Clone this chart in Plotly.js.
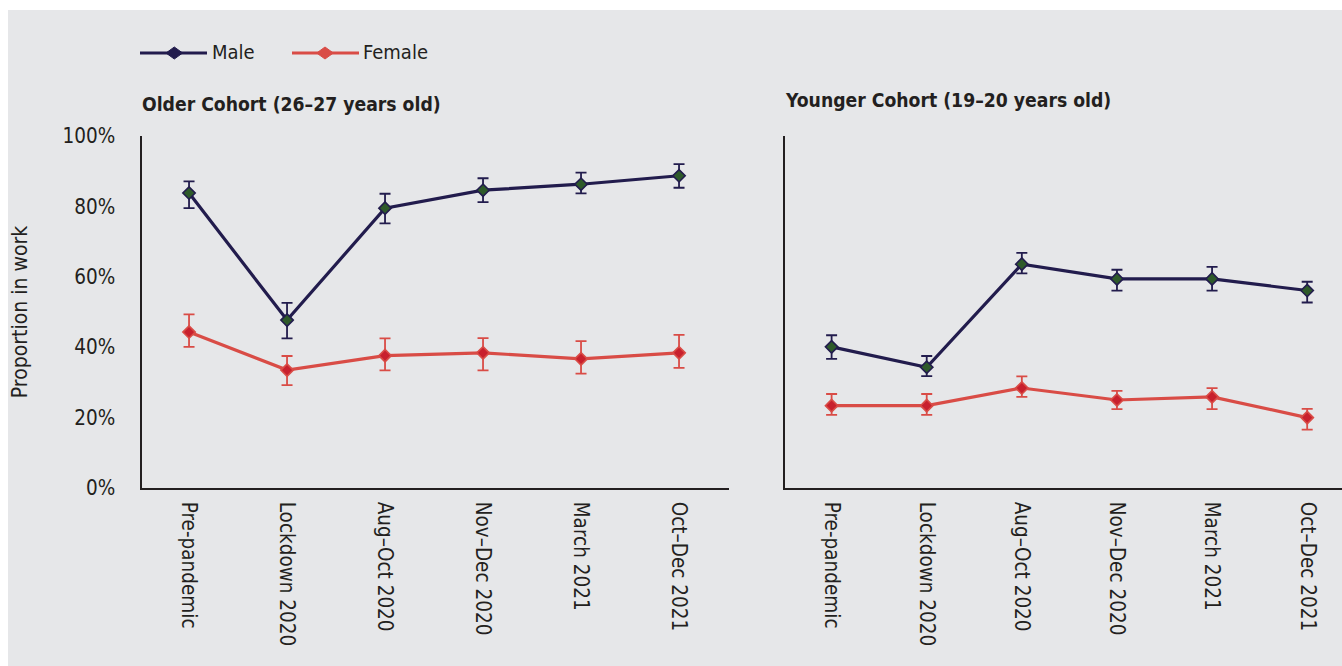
<!DOCTYPE html>
<html>
<head>
<meta charset="utf-8">
<script src="https://cdn.plot.ly/plotly-3.0.1.min.js"></script>
<style>
html,body{margin:0;padding:0;background:#ffffff;}
#chart{position:absolute;left:8px;top:10px;width:1334px;height:656px;}
</style>
</head>
<body>
<div id="chart"></div>
<script>
// ---- data ----
var categories = ["Pre-pandemic", "Lockdown 2020", "Aug\u2013Oct 2020", "Nov\u2013Dec 2020", "March 2021", "Oct\u2013Dec 2021"];
var yTickVals = [0, 20, 40, 60, 80, 100];
var yTickText = ["0%", "20%", "40%", "60%", "80%", "100%"];

var olderMale = [83.8, 47.7, 79.5, 84.6, 86.3, 88.7];
var olderMalePlus = [3.3, 4.9, 4.1, 3.4, 3.3, 3.3];
var olderMaleMinus = [4.3, 5.2, 4.3, 3.4, 2.6, 3.4];

var olderFemale = [44.3, 33.5, 37.6, 38.4, 36.7, 38.4];
var olderFemalePlus = [5.0, 4.0, 4.9, 4.2, 5.0, 5.1];
var olderFemaleMinus = [4.2, 4.3, 4.2, 5.0, 4.2, 4.3];

var youngerMale = [40.1, 34.3, 63.6, 59.4, 59.4, 56.1];
var youngerMalePlus = [3.3, 3.2, 3.2, 2.6, 3.4, 2.5];
var youngerMaleMinus = [3.4, 2.5, 2.6, 3.3, 3.3, 3.4];

var youngerFemale = [23.4, 23.4, 28.4, 25.0, 25.9, 20.0];
var youngerFemalePlus = [3.3, 3.3, 3.3, 2.6, 2.5, 2.5];
var youngerFemaleMinus = [2.6, 2.6, 2.5, 2.6, 3.5, 3.4];

// ---- styles ----
var FONT = "DejaVu Sans Condensed, Liberation Sans Narrow, Liberation Sans, Arial, sans-serif";
var TXT = "#231f20";
var BG = "#e6e7e9";
var NAVY = "#221c4d";
var GREEN = "#2e5a2a";
var RED = "#d94c46";
var REDFILL = "#c8202d";

function series(x, y, plus, minus, xa, ya, lineColor, fill, border) {
  return {
    type: "scatter", mode: "lines+markers", x: x, y: y, xaxis: xa, yaxis: ya,
    showlegend: false, hoverinfo: "skip",
    line: {color: lineColor, width: 3.2},
    marker: {symbol: "diamond", size: 9.5, color: fill, line: {color: border, width: 1.6}},
    error_y: {type: "data", symmetric: false, array: plus, arrayminus: minus,
              color: lineColor, thickness: 1.8, width: 5.5}
  };
}

var traces = [
  series(categories, olderFemale, olderFemalePlus, olderFemaleMinus, "x", "y", RED, REDFILL, RED),
  series(categories, olderMale, olderMalePlus, olderMaleMinus, "x", "y", NAVY, GREEN, NAVY),
  series(categories, youngerFemale, youngerFemalePlus, youngerFemaleMinus, "x2", "y2", RED, REDFILL, RED),
  series(categories, youngerMale, youngerMalePlus, youngerMaleMinus, "x2", "y2", NAVY, GREEN, NAVY)
];

var xBase = {
  type: "category", showgrid: false, zeroline: false, showline: true,
  linecolor: TXT, linewidth: 1.6, ticks: "", tickangle: 90,
  tickfont: {family: FONT, size: 20.5, color: TXT}, ticklabelstandoff: 8, fixedrange: true
};
var yBase = {
  range: [0, 100], showgrid: false, zeroline: false, showline: true,
  linecolor: TXT, linewidth: 1.6, ticks: "", tickvals: yTickVals, ticktext: yTickText,
  tickfont: {family: FONT, size: 20.5, color: TXT}, fixedrange: true
};

// pixel helpers (plot area: x 142..1342, y 136..488 in page px)
function px(p) { return (p - 142) / 1200; }
function py(p) { return (488 - p) / 352; }

function legendKey(x1, x2, xm, y, color) {
  var dx = 8.3 / 1200, dy = 6 / 352;
  var cx = px(xm), cy = py(y);
  return [
    {type: "line", xref: "paper", yref: "paper", x0: px(x1), x1: px(x2), y0: cy, y1: cy,
     line: {color: color, width: 3.2}},
    {type: "path", xref: "paper", yref: "paper",
     path: "M" + (cx - dx) + "," + cy + " L" + cx + "," + (cy + dy) + " L" + (cx + dx) + "," + cy + " L" + cx + "," + (cy - dy) + " Z",
     fillcolor: color, line: {color: color, width: 1}}
  ];
}

var layout = {
  width: 1334, height: 656,
  paper_bgcolor: BG, plot_bgcolor: BG,
  margin: {l: 134, r: 0, t: 126, b: 178},
  font: {family: FONT, color: TXT},
  showlegend: false,
  xaxis: Object.assign({}, xBase, {domain: [0, 0.48917], range: [-0.48, 5.51], anchor: "y"}),
  yaxis: Object.assign({}, yBase, {domain: [0, 1], anchor: "x", ticklabelstandoff: 21,
    title: {text: "Proportion in work", font: {family: FONT, size: 21, color: TXT}, standoff: 31}}),
  xaxis2: Object.assign({}, xBase, {domain: [0.53583, 1], range: [-0.49, 5.366], anchor: "y2"}),
  yaxis2: Object.assign({}, yBase, {domain: [0, 1], anchor: "x2", showticklabels: false}),
  shapes: [].concat(legendKey(140, 207, 174.3, 53, NAVY), legendKey(292, 359, 325, 53, RED)),
  annotations: [
    {text: "Male", xref: "paper", yref: "paper", x: px(210), y: py(52), xanchor: "left", yanchor: "middle",
     showarrow: false, font: {family: FONT, size: 20, color: TXT}},
    {text: "Female", xref: "paper", yref: "paper", x: px(361), y: py(52), xanchor: "left", yanchor: "middle",
     showarrow: false, font: {family: FONT, size: 20, color: TXT}},
    {text: "<b>Older Cohort (26\u201327 years old)</b>", xref: "paper", yref: "paper", x: px(140), y: py(105),
     xanchor: "left", yanchor: "middle", showarrow: false, font: {family: FONT, size: 19.2, color: TXT}},
    {text: "<b>Younger Cohort (19\u201320 years old)</b>", xref: "paper", yref: "paper", x: px(783), y: py(100),
     xanchor: "left", yanchor: "middle", showarrow: false, font: {family: FONT, size: 19.2, color: TXT}}
  ]
};

Plotly.newPlot("chart", traces, layout, {displayModeBar: false, staticPlot: true});
</script>
</body>
</html>
